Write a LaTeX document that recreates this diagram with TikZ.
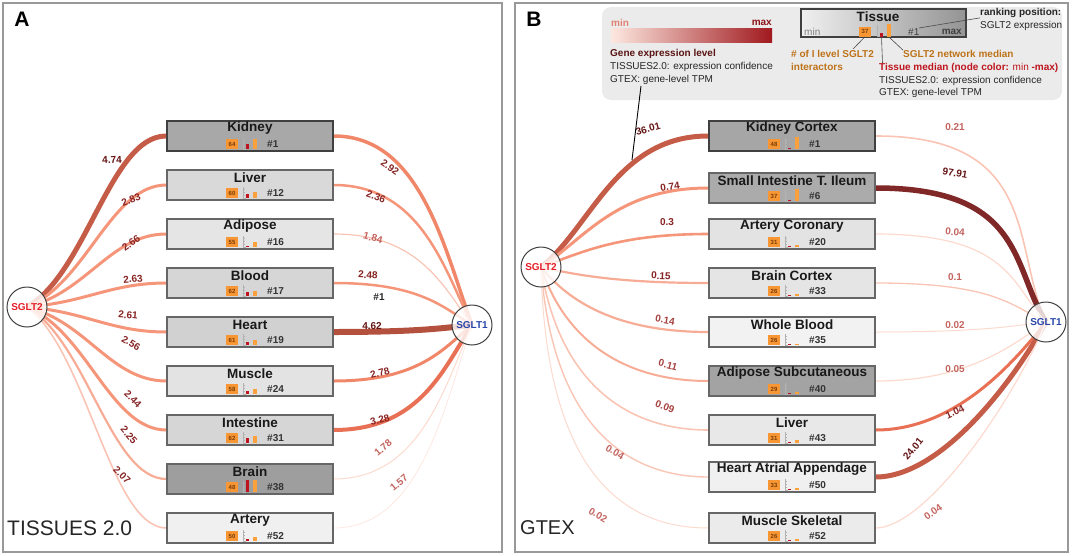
\documentclass[tikz,border=0pt]{standalone}
\usepackage{fontspec}
\setmainfont{Liberation Sans}
\usetikzlibrary{calc}
\pgfdeclarelayer{edges}
\pgfsetlayers{edges,main}
\newcommand\fsz[1]{\fontsize{#1}{#1}\selectfont}
\definecolor{eA}{RGB}{196,92,72}
\definecolor{eA2}{RGB}{180,80,62}
\definecolor{eB}{RGB}{245,150,122}
\definecolor{eB2}{RGB}{240,135,105}
\definecolor{eC}{RGB}{247,172,150}
\definecolor{eD}{RGB}{250,196,180}
\definecolor{eE}{RGB}{252,218,206}
\definecolor{eF}{RGB}{253,232,224}
\definecolor{eM}{RGB}{128,40,40}
\definecolor{eR}{RGB}{232,112,84}
\definecolor{labX}{RGB}{100,20,20}
\definecolor{labD}{RGB}{135,35,35}
\definecolor{labM}{RGB}{165,65,62}
\definecolor{labL}{RGB}{195,100,95}
\definecolor{s2c}{RGB}{230,30,40}
\definecolor{s1c}{RGB}{40,70,170}
\definecolor{orgc}{RGB}{247,150,50}
\definecolor{netc}{RGB}{250,160,60}
\definecolor{medc}{RGB}{190,20,30}
\definecolor{cntc}{RGB}{120,60,10}
\definecolor{ocol}{RGB}{190,115,25}
\definecolor{gelc}{RGB}{90,20,20}
% left edges: SGLT2 -> tissue, right edges: tissue -> SGLT1
\def\linkL#1#2#3{\draw[#1] let \p1=(#2), \p2=(#3.west) in (\p1) .. controls ({\x1+\pLa*(\x2-\x1)+\pLd*(\y2-\y1)},{\y1+(\pLb-\pLe*(\y2-\y1))*(\y2-\y1)}) and ({\x2-\pLc*(\x2-\x1)},\y2) .. (\p2);}
\def\linkR#1#2#3{\draw[#1] let \p1=(#2.east), \p2=(#3) in (\p1) .. controls ({\x1+\pRa*(\x2-\x1)+\pRb*(\y1-\y2)},\y1) and ({\x2-0.2*(\x2-\x1)},{\y2+0.4*(\y1-\y2)}) .. (\p2);}
\newcommand{\tissue}[9]{%
  \node[tbox,#4] (#1) at (#2,#3) {};
  \node[ttl] (#1t) at ($(#1)+(0,-7.5)$) {#5};
  \node[cnt] (#1c) at ($(#1)+(-18,8)$) {#6};
  \draw[rul] ($(#1)+(-6.5,2)$) -- ($(#1)+(-6.5,13)$) -- ($(#1)+(-4.5,13)$);
  \foreach \yy in {4,7,10}{\draw[rul] ($(#1)+(-6.5,\yy)$) -- ++(1.5,0);}
  \fill[medc] ($(#1)+(-4,13)$) rectangle ($(#1)+(-1,13-#7)$);
  \fill[netc] ($(#1)+(3,13)$) rectangle ($(#1)+(6.5,13-#8)$);
  \node[rnk] (#1r) at ($(#1)+(17,8)$) {\##9};
}
\tikzset{
  tbox/.style={draw=black!60, line width=1.2, minimum width=166, minimum height=30, inner sep=0},
  ttl/.style={inner sep=0, font=\fsz{13.5}\bfseries, text=black!90},
  cnt/.style={fill=orgc, minimum width=12.7, minimum height=10, inner sep=0, font=\fsz{6}\bfseries, text=cntc},
  rnk/.style={anchor=west, inner sep=0, font=\fsz{10}\bfseries, text=black!80},
  rul/.style={draw=black!30, line width=0.6},
  gene/.style={circle, draw=black!75, line width=1, fill=white, fill opacity=.8, text opacity=1, minimum size=40, inner sep=0, font=\fsz{10}\bfseries},
  lab/.style={inner sep=0, font=\fsz{10}\bfseries, text=labD},
  lgd/.style={anchor=west, inner sep=0, font=\fsz{10}, text=black!85},
  lgb/.style={lgd, font=\fsz{10}\bfseries},
}
\begin{document}
\begin{tikzpicture}[x=1pt,y=-1pt]
\useasboundingbox (0,0) rectangle (1072,555);
\draw[black!40, line width=1.5] (3,3) rectangle (502,552);
\draw[black!40, line width=1.5] (515,3) rectangle (1068,552);
\node[font=\fsz{21}\bfseries] (pA) at (22,19) {A};
\node[font=\fsz{21}\bfseries] (pB) at (534,19) {B};
\node[anchor=west, inner sep=0, font=\fsz{21}, text=black!85] (nA) at (7,528) {TISSUES 2.0};
\node[anchor=west, inner sep=0, font=\fsz{20}, text=black!85] (nB) at (520,528) {GTEX};

\coordinate (cA2) at (27,307);
\coordinate (cA1) at (472,325);
\coordinate (cB2) at (541,267);
\coordinate (cB1) at (1046,322);

% panel A
\tissue{kidA}{250}{136}{fill=black!34, draw=black!75, line width=1.8}{Kidney}{64}{5}{10}{1}
\tissue{livA}{250}{185}{fill=black!15}{Liver}{60}{4}{6}{12}
\tissue{adiA}{250}{234}{fill=black!10}{Adipose}{55}{1}{5}{16}
\tissue{bloA}{250}{283}{fill=black!16}{Blood}{62}{4}{5}{17}
\tissue{heaA}{250}{332}{fill=black!18}{Heart}{61}{3}{5}{19}
\tissue{musA}{250}{381}{fill=black!11}{Muscle}{58}{3}{5}{24}
\tissue{intA}{250}{430}{fill=black!16}{Intestine}{62}{5}{7}{31}
\tissue{braA}{250}{479}{fill=black!38}{Brain}{48}{12}{12}{38}
\tissue{artA}{250}{528}{fill=black!6}{Artery}{50}{2}{4}{52}

% panel B
\tissue{kcB}{792}{136}{fill=black!35, draw=black!75, line width=1.8}{Kidney Cortex}{48}{1}{12}{1}
\tissue{siB}{792}{188}{fill=black!33}{Small Intestine T. Ileum}{37}{1}{12}{6}
\tissue{acB}{792}{234}{fill=black!11}{Artery Coronary}{31}{1}{2}{20}
\tissue{bcB}{792}{283}{fill=black!10}{Brain Cortex}{26}{1}{2}{33}
\tissue{wbB}{792}{332}{fill=black!5}{Whole Blood}{26}{1}{1}{35}
\tissue{asB}{792}{381}{fill=black!36}{Adipose Subcutaneous}{29}{1}{2}{40}
\tissue{liB}{792}{430}{fill=black!9}{Liver}{31}{1}{3}{43}
\tissue{haB}{792}{477}{fill=black!6}{Heart Atrial Appendage}{33}{1}{2}{50}
\tissue{msB}{792}{528}{fill=black!8}{Muscle Skeletal}{26}{1}{2}{52}

\begin{pgfonlayer}{edges}
\def\pLa{0.43}\def\pLb{0.2}\def\pLc{0.4}\def\pLd{0}\def\pLe{0}\def\pRa{0.63}\def\pRb{0}
\linkL{line width=5, draw=eA}{cA2}{kidA}
\linkL{line width=3, draw=eB}{cA2}{livA}
\linkL{line width=3, draw=eB}{cA2}{adiA}
\linkL{line width=3, draw=eB}{cA2}{bloA}
\linkL{line width=3, draw=eB}{cA2}{heaA}
\linkL{line width=3, draw=eB}{cA2}{musA}
\linkL{line width=3, draw=eB}{cA2}{intA}
\linkL{line width=2.2, draw=eC}{cA2}{braA}
\linkL{line width=1.6, draw=eD}{cA2}{artA}
\linkR{line width=3.5, draw=eB2}{kidA}{cA1}
\linkR{line width=2.5, draw=eB}{livA}{cA1}
\linkR{line width=1.2, draw=eD}{adiA}{cA1}
\linkR{line width=2.5, draw=eB}{bloA}{cA1}
\linkR{line width=6, draw=eA2}{heaA}{cA1}
\linkR{line width=3, draw=eB2}{musA}{cA1}
\linkR{line width=4, draw=eR}{intA}{cA1}
\linkR{line width=1, draw=eE}{braA}{cA1}
\linkR{line width=0.8, draw=eF}{artA}{cA1}
\def\pLa{0.208}\def\pLb{0.45}\def\pLc{0.55}\def\pLd{0.116}\def\pLe{0.00116}\def\pRa{0.646}\def\pRb{0.293}
\linkL{line width=5, draw=eA}{cB2}{kcB}
\linkL{line width=3, draw=eB}{cB2}{siB}
\linkL{line width=2.6, draw=eB}{cB2}{acB}
\linkL{line width=2.2, draw=eC}{cB2}{bcB}
\linkL{line width=2.2, draw=eC}{cB2}{wbB}
\linkL{line width=2, draw=eC}{cB2}{asB}
\linkL{line width=1.6, draw=eD}{cB2}{liB}
\linkL{line width=1.4, draw=eD}{cB2}{haB}
\linkL{line width=1, draw=eE}{cB2}{msB}
\linkR{line width=1.6, draw=eD}{kcB}{cB1}
\linkR{line width=5.5, draw=eM}{siB}{cB1}
\linkR{line width=1.2, draw=eE}{acB}{cB1}
\linkR{line width=1.3, draw=eD}{bcB}{cB1}
\linkR{line width=1, draw=eE}{wbB}{cB1}
\linkR{line width=1.2, draw=eE}{asB}{cB1}
\linkR{line width=3, draw=eR}{liB}{cB1}
\linkR{line width=5, draw=eA}{haB}{cB1}
\linkR{line width=1.2, draw=eE}{msB}{cB1}
\end{pgfonlayer}

\node[gene, text=s2c] (sglt2A) at (cA2) {SGLT2};
\node[gene, text=s1c] (sglt1A) at (cA1) {SGLT1};
\node[gene, text=s2c] (sglt2B) at (cB2) {SGLT2};
\node[gene, text=s1c] (sglt1B) at (cB1) {SGLT1};

% edge values A
\node[lab, text=labX, rotate=3] (vkA) at (112,160) {4.74};
\node[lab, rotate=20] (vlA) at (131,200) {2.83};
\node[lab, rotate=35] (vaA) at (131,243) {2.66};
\node[lab, rotate=5] (vbA) at (133,279) {2.63};
\node[lab, rotate=-5] (vhA) at (128,315) {2.61};
\node[lab, rotate=-30] (vmA) at (131,343) {2.56};
\node[lab, rotate=-45] (viA) at (133,399) {2.44};
\node[lab, rotate=-50] (vrA) at (129,435) {2.25};
\node[lab, rotate=-45] (vtA) at (122,475) {2.07};
\node[lab, rotate=-35] (wkA) at (390,167) {2.92};
\node[lab, rotate=-20] (wlA) at (376,197) {2.36};
\node[lab, text=labL, rotate=-15] (waA) at (373,238) {1.84};
\node[lab, rotate=-3] (wbA) at (368,275) {2.48};
\node[lab, text=black!85] (xA) at (379,297) {\#1};
\node[lab, text=labX] (whA) at (372,326) {4.62};
\node[lab, rotate=15] (wmA) at (380,373) {2.78};
\node[lab, rotate=15] (wiA) at (380,420) {3.28};
\node[lab, text=labL, rotate=40] (wrA) at (383,448) {1.78};
\node[lab, text=labL, rotate=40] (wtA) at (399,483) {1.57};

% edge values B
\node[lab, text=labX, rotate=15] (vkB) at (648,129) {36.01};
\node[lab, rotate=8] (vsB) at (670,187) {0.74};
\node[lab] (vcB) at (667,222) {0.3};
\node[lab, rotate=-3] (vbB) at (661,276) {0.15};
\node[lab, text=labM, rotate=-10] (vwB) at (665,320) {0.14};
\node[lab, text=labM, rotate=-15] (vaB) at (668,365) {0.11};
\node[lab, text=labM, rotate=-20] (vlB) at (665,407) {0.09};
\node[lab, text=labL, rotate=-30] (vhB) at (615,452) {0.04};
\node[lab, text=labL, rotate=-30] (vmB) at (598,515) {0.02};
\node[lab, text=labL] (wkB) at (955,127) {0.21};
\node[lab, text=labX, rotate=-10] (wsB) at (955,173) {97.91};
\node[lab, text=labL, rotate=-5] (wcB) at (955,232) {0.04};
\node[lab, text=labL] (wbB) at (955,277) {0.1};
\node[lab, text=labL] (wwB) at (955,325) {0.02};
\node[lab, text=labL] (waB) at (955,369) {0.05};
\node[lab, text=labD, rotate=25] (wlB) at (955,412) {1.04};
\node[lab, text=labX, rotate=50] (whB) at (913,449) {24.01};
\node[lab, text=labL, rotate=35] (wmB) at (933,512) {0.04};

% legend
\fill[black!8, rounded corners=9] (602,7) rectangle (1062,100);
\node[lgb, text={rgb,255:red,225;green,130;blue,115}] (gmin) at (611,23) {min};
\node[lgb, anchor=east, text={rgb,255:red,140;green,20;blue,25}] (gmax) at (772,23) {max};
\shade[left color={rgb,255:red,253;green,232;blue,224}, middle color={rgb,255:red,235;green,90;blue,70}, right color={rgb,255:red,160;green,25;blue,30}] (611,28) rectangle (772,42);
\node[lgb, text=gelc] (gel) at (610,54) {Gene expression level};
\node[lgd] (gt1) at (610,67) {TISSUES2.0: expression confidence};
\node[lgd] (gt2) at (610,80) {GTEX: gene-level TPM};
\coordinate (gp) at (641,86);
\coordinate (ge) at (632,160);
\draw[line width=0.9] (gp) -- (ge);

\shade[left color=black!6, right color=black!42, draw=black!75, line width=1.2] (801,9) rectangle (966,37);
\node[ttl] (tis) at (878,17) {Tissue};
\node[lgd, text=black!50] (tmin) at (804,32) {min};
\node[cnt] (tcnt) at (865,31.5) {37};
\draw[rul] (877.5,25) -- (877.5,36.5) -- (879.5,36.5);
\fill[medc] (880,32.5) rectangle (883,36.5);
\fill[netc] (887,23.5) rectangle (891,36.5);
\node[lgd, text=black!75] (trk) at (908,32) {\#1};
\node[lgb, anchor=east, text=black!75] (tmax) at (962,32) {max};
\node[lgb] (rkp) at (980,13) {ranking position:};
\node[lgd] (rks) at (980,26) {SGLT2 expression};
\coordinate (rk1) at (919,28);
\draw[line width=0.6, black!70] (rk1) -- (rkp.south west);
\node[lgb, text=ocol] (nint) at (791,54) {\# of I level SGLT2};
\node[lgb, text=ocol] (nint2) at (791,67) {interactors};
\coordinate (ni) at (853,49);
\draw[line width=0.6, black!70] (tcnt.south) -- (ni);
\node[lgb, text=ocol] (nmed) at (903,54) {SGLT2 network median};
\coordinate (nb) at (889,37);
\draw[line width=0.6, black!70] (nb) -- (nmed.north west);
\node[lgb, text=medc] (tmed) at (879,68) {Tissue median (node color: {\mdseries min} -max)};
\coordinate (tb) at (881.5,37);
\coordinate (tm) at (882.5,63);
\draw[line width=0.6, black!70] (tb) -- (tm);
\node[lgd] (tt1) at (879,81) {TISSUES2.0: expression confidence};
\node[lgd] (tt2) at (879,93) {GTEX: gene-level TPM};
\end{tikzpicture}
\end{document}
